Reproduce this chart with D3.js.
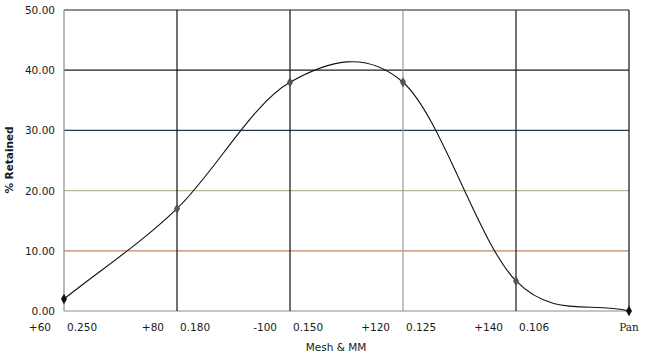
<!DOCTYPE html>
<html>
  <head>
    <meta charset="utf-8" />
    <title>% Retained by Mesh</title>
    <script src="https://d3js.org/d3.v7.min.js"></script>
    <style>
      body { margin: 0; background: #fff; }
      text { font-family: "DejaVu Sans", sans-serif; fill: #1a1a1a; }
    </style>
  </head>
  <body>
    <svg id="viz"></svg>
    <script>
        // data
        var meshLabels = ["+60", "+80", "-100", "+120", "+140", "Pan"];
        var mmLabels = ["0.250", "0.180", "0.150", "0.125", "0.106", ""];
        var retained = [2.0, 17.0, 38.0, 38.0, 5.0, 0.0];
        var yTicks = [0, 10, 20, 30, 40, 50];

        // scanned gridline tints
        var hGridColors = ["#8c8c8c", "#b98a66", "#b3b89c", "#25354f", "#1e1e1e", "#1e1e1e"];
        var vGridColors = ["#8c8c8c", "#111", "#111", "#9a9a9a", "#1a1a1a", "#111"];

        var width = 647, height = 355;
        var plotLeft = 64, plotRight = 629, plotTop = 10, plotBottom = 311;

        var svg = d3.select("#viz")
            .attr("width", width)
            .attr("height", height);

        var x = d3.scalePoint()
            .domain(meshLabels)
            .range([plotLeft, plotRight]);

        var y = d3.scaleLinear()
            .domain([0, 50])
            .range([plotBottom, plotTop]);

        // spreadsheet-style smoothing: interior tangents (p[i+1]-p[i-1])/6,
        // end tangents (p1-p0)/3
        function curveSmooth(context) {
            var pts;
            return {
                areaStart: function() {},
                areaEnd: function() {},
                lineStart: function() { pts = []; },
                point: function(px, py) { pts.push([+px, +py]); },
                lineEnd: function() {
                    var n = pts.length;
                    if (!n) return;
                    var tan = pts.map(function(p, i) {
                        if (i === 0) return [(pts[1][0] - p[0]) / 3, (pts[1][1] - p[1]) / 3];
                        if (i === n - 1) return [(p[0] - pts[i - 1][0]) / 3, (p[1] - pts[i - 1][1]) / 3];
                        return [(pts[i + 1][0] - pts[i - 1][0]) / 6, (pts[i + 1][1] - pts[i - 1][1]) / 6];
                    });
                    context.moveTo(pts[0][0], pts[0][1]);
                    for (var i = 0; i < n - 1; i++) {
                        context.bezierCurveTo(
                            pts[i][0] + tan[i][0], pts[i][1] + tan[i][1],
                            pts[i + 1][0] - tan[i + 1][0], pts[i + 1][1] - tan[i + 1][1],
                            pts[i + 1][0], pts[i + 1][1]);
                    }
                }
            };
        }

        // horizontal grid
        svg.append("g").selectAll("line")
            .data(yTicks)
            .enter().append("line")
            .attr("x1", plotLeft).attr("x2", plotRight)
            .attr("y1", function(d) { return y(d); })
            .attr("y2", function(d) { return y(d); })
            .attr("stroke", function(d, i) { return hGridColors[i]; })
            .attr("stroke-width", 1.2);

        // vertical grid
        svg.append("g").selectAll("line")
            .data(meshLabels)
            .enter().append("line")
            .attr("x1", function(d) { return x(d); })
            .attr("x2", function(d) { return x(d); })
            .attr("y1", plotTop).attr("y2", plotBottom)
            .attr("stroke", function(d, i) { return vGridColors[i]; })
            .attr("stroke-width", 1.2);

        // y tick labels
        svg.append("g").selectAll("text")
            .data(yTicks)
            .enter().append("text")
            .attr("x", 55)
            .attr("y", function(d) { return y(d) + 4; })
            .attr("text-anchor", "end")
            .style("font-size", "10.5px")
            .text(function(d) { return d.toFixed(2); });

        // x tick labels: mesh to the left of the line, mm to the right
        var xl = svg.append("g");
        xl.selectAll("text.mesh")
            .data(meshLabels.slice(0, 5))
            .enter().append("text")
            .attr("class", "mesh")
            .attr("x", function(d) { return x(d) - 13; })
            .attr("y", 331)
            .attr("text-anchor", "end")
            .style("font-size", "10.5px")
            .text(function(d) { return d; });

        xl.selectAll("text.mm")
            .data(mmLabels.slice(0, 5))
            .enter().append("text")
            .attr("class", "mm")
            .attr("x", function(d, i) { return x(meshLabels[i]) + 3; })
            .attr("y", 331)
            .style("font-size", "10.5px")
            .text(function(d) { return d; });

        xl.append("text")
            .attr("x", x("Pan"))
            .attr("y", 331)
            .attr("text-anchor", "middle")
            .style("font-family", "'DejaVu Serif', serif")
            .style("font-size", "10.5px")
            .text("Pan");

        // axis titles
        svg.append("text")
            .attr("x", 336)
            .attr("y", 351)
            .attr("text-anchor", "middle")
            .style("font-size", "10.5px")
            .text("Mesh & MM");

        svg.append("text")
            .attr("transform", "translate(13,160) rotate(-90)")
            .attr("text-anchor", "middle")
            .style("font-size", "10.5px")
            .style("font-weight", "bold")
            .text("% Retained");

        // smoothed line
        var line = d3.line()
            .x(function(d, i) { return x(meshLabels[i]); })
            .y(function(d) { return y(d); })
            .curve(curveSmooth);

        svg.append("path")
            .datum(retained)
            .attr("d", line)
            .attr("fill", "none")
            .attr("stroke", "#111")
            .attr("stroke-width", 1.1);

        svg.append("g").selectAll("path")
            .data(retained)
            .enter().append("path")
            .attr("transform", function(d, i) {
                return "translate(" + x(meshLabels[i]) + "," + y(d) + ")";
            })
            .attr("d", d3.symbol().type(d3.symbolDiamond).size(32))
            .attr("fill", function(d, i) { return (i === 0 || i === 5) ? "#111" : "#555"; });
    </script>
  </body>
</html>
